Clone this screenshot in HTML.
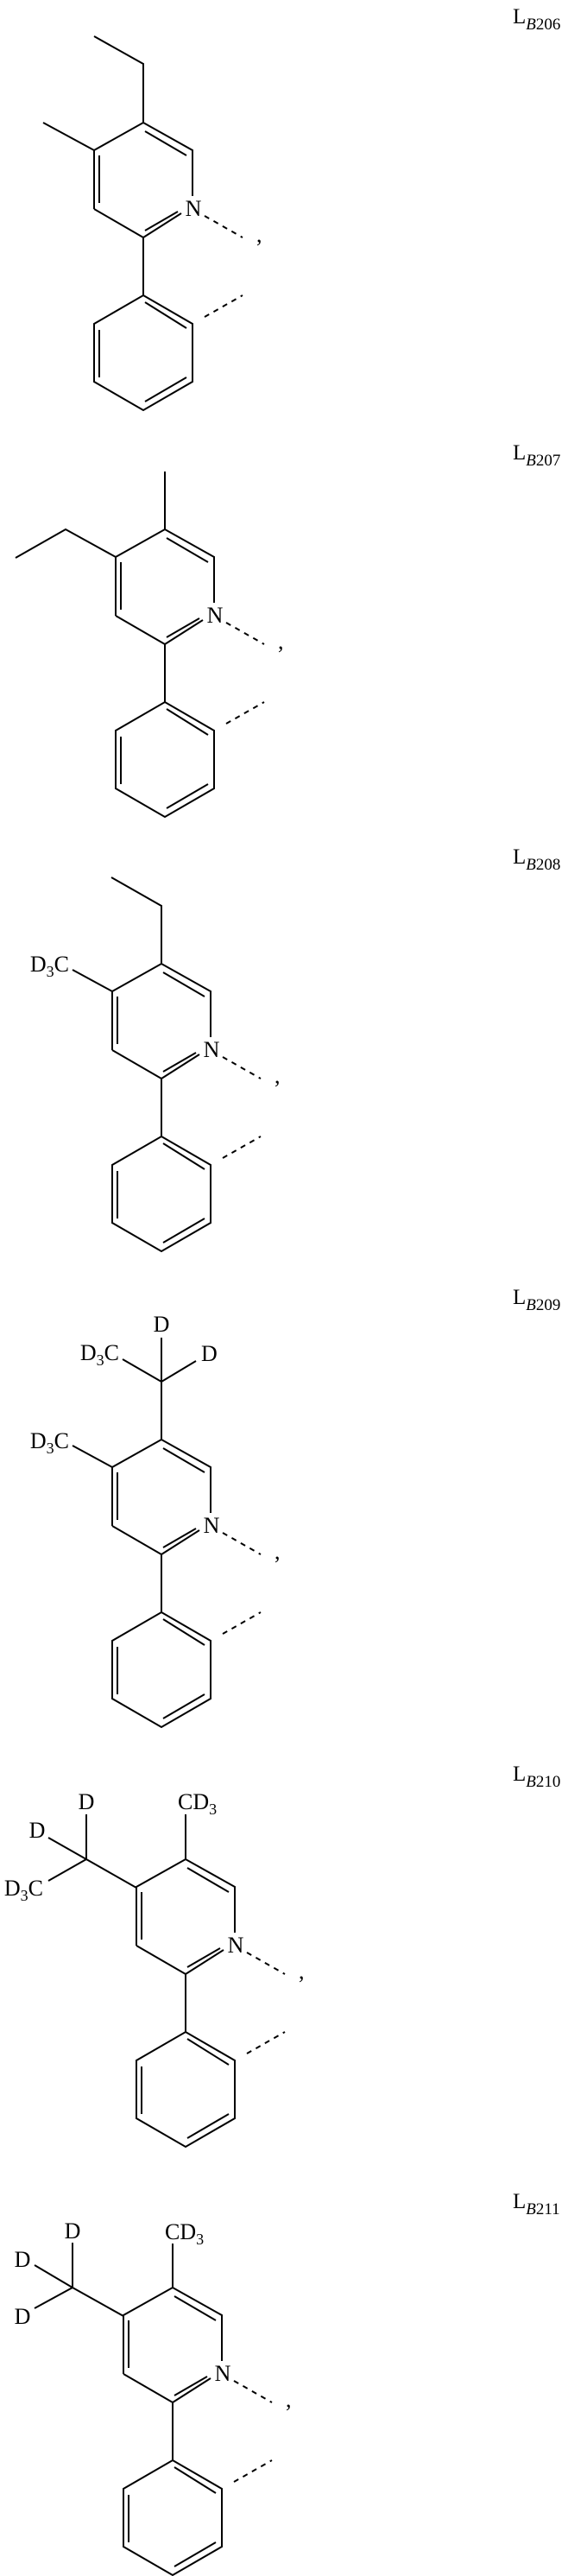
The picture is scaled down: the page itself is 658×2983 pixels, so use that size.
<!DOCTYPE html>
<html><head><meta charset="utf-8"><style>
html,body{margin:0;padding:0;background:#fff}
svg{display:block}
text{font-family:"Liberation Serif",serif;fill:#000}
</style></head><body>
<svg width="658" height="2983" viewBox="0 0 658 2983" xmlns="http://www.w3.org/2000/svg">
<defs>
<g id="core" stroke="#000" stroke-width="2" fill="none" stroke-linecap="butt">
  <polyline points="-57,100 -57,32 0,0 57,32 57,85"/>
  <line x1="0" y1="133" x2="-57" y2="100"/>
  <line x1="0" y1="133" x2="44" y2="105"/>
  <line x1="2" y1="10" x2="50" y2="38"/>
  <line x1="-51" y1="38" x2="-51" y2="93"/>
  <line x1="2" y1="125" x2="40" y2="103"/>
  <line x1="0" y1="133" x2="0" y2="200"/>
  <polygon points="0,200 57,233 57,300 0,333 -57,300 -57,233"/>
  <line x1="2" y1="208" x2="50" y2="238"/>
  <line x1="-51" y1="240" x2="-51" y2="295"/>
  <line x1="50" y1="295" x2="2" y2="323"/>
  <line x1="71" y1="108" x2="115" y2="133" stroke-dasharray="6,6"/>
  <line x1="71" y1="225" x2="115" y2="200" stroke-dasharray="6,6"/>
</g>
</defs>

<!-- Structure 1 -->
<g transform="translate(166,142)">
  <use href="#core"/>
  <g stroke="#000" stroke-width="2" fill="none">
    <polyline points="-57,-100 0,-68 0,0"/>
    <line x1="-57" y1="32" x2="-116" y2="0"/>
  </g>
  <text x="58" y="108" font-size="26" text-anchor="middle">N</text>
  <text x="131" y="138" font-size="26">,</text>
</g>
<text x="594" y="27" font-size="25">L<tspan font-size="19" font-style="italic" dy="7">B</tspan><tspan font-size="19">206</tspan></text>

<!-- Structure 2 -->
<g transform="translate(191,613)">
  <use href="#core"/>
  <g stroke="#000" stroke-width="2" fill="none">
    <line x1="0" y1="0" x2="0" y2="-67"/>
    <polyline points="-57,32 -115,0 -173,33"/>
  </g>
  <text x="58" y="108" font-size="26" text-anchor="middle">N</text>
  <text x="131" y="138" font-size="26">,</text>
</g>
<text x="594" y="532" font-size="25">L<tspan font-size="19" font-style="italic" dy="7">B</tspan><tspan font-size="19">207</tspan></text>

<!-- Structure 3 -->
<g transform="translate(187,1116)">
  <use href="#core"/>
  <g stroke="#000" stroke-width="2" fill="none">
    <polyline points="-58,-100 0,-67 0,0"/>
    <line x1="-57" y1="32" x2="-103" y2="7"/>
  </g>
  <text x="-107" y="9" font-size="26" text-anchor="end">D<tspan font-size="18" dy="6">3</tspan><tspan dy="-6">C</tspan></text>
  <text x="58" y="108" font-size="26" text-anchor="middle">N</text>
  <text x="131" y="138" font-size="26">,</text>
</g>
<text x="594" y="1000" font-size="25">L<tspan font-size="19" font-style="italic" dy="7">B</tspan><tspan font-size="19">208</tspan></text>

<!-- Structure 4 -->
<g transform="translate(187,1667)">
  <use href="#core"/>
  <g stroke="#000" stroke-width="2" fill="none">
    <line x1="0" y1="0" x2="0" y2="-67"/>
    <line x1="0" y1="-67" x2="0" y2="-118"/>
    <line x1="0" y1="-67" x2="40" y2="-91"/>
    <line x1="0" y1="-67" x2="-45" y2="-93"/>
    <line x1="-57" y1="32" x2="-103" y2="7"/>
  </g>
  <text x="0" y="-125" font-size="26" text-anchor="middle">D</text>
  <text x="46" y="-91" font-size="26">D</text>
  <text x="-49" y="-92" font-size="26" text-anchor="end">D<tspan font-size="18" dy="6">3</tspan><tspan dy="-6">C</tspan></text>
  <text x="-107" y="10" font-size="26" text-anchor="end">D<tspan font-size="18" dy="6">3</tspan><tspan dy="-6">C</tspan></text>
  <text x="58" y="108" font-size="26" text-anchor="middle">N</text>
  <text x="131" y="138" font-size="26">,</text>
</g>
<text x="594" y="1510" font-size="25">L<tspan font-size="19" font-style="italic" dy="7">B</tspan><tspan font-size="19">209</tspan></text>

<!-- Structure 5 -->
<g transform="translate(215,2153)">
  <use href="#core"/>
  <g stroke="#000" stroke-width="2" fill="none">
    <line x1="0" y1="0" x2="0" y2="-52"/>
    <line x1="-57" y1="33" x2="-115" y2="0"/>
    <line x1="-115" y1="0" x2="-115" y2="-52"/>
    <line x1="-115" y1="0" x2="-159" y2="-25"/>
    <line x1="-115" y1="0" x2="-159" y2="25"/>
  </g>
  <text x="-9" y="-58" font-size="26">CD<tspan font-size="18" dy="6">3</tspan></text>
  <text x="-115" y="-58" font-size="26" text-anchor="middle">D</text>
  <text x="-172" y="-25" font-size="26" text-anchor="middle">D</text>
  <text x="-165" y="42" font-size="26" text-anchor="end">D<tspan font-size="18" dy="6">3</tspan><tspan dy="-6">C</tspan></text>
  <text x="58" y="108" font-size="26" text-anchor="middle">N</text>
  <text x="131" y="138" font-size="26">,</text>
</g>
<text x="594" y="2062" font-size="25">L<tspan font-size="19" font-style="italic" dy="7">B</tspan><tspan font-size="19">210</tspan></text>

<!-- Structure 6 -->
<g transform="translate(200,2649)">
  <use href="#core"/>
  <g stroke="#000" stroke-width="2" fill="none">
    <line x1="0" y1="0" x2="0" y2="-51"/>
    <line x1="-57" y1="33" x2="-116" y2="0"/>
    <line x1="-116" y1="0" x2="-116" y2="-52"/>
    <line x1="-116" y1="0" x2="-160" y2="-26"/>
    <line x1="-116" y1="0" x2="-160" y2="24"/>
  </g>
  <text x="-9" y="-56" font-size="26">CD<tspan font-size="18" dy="6">3</tspan></text>
  <text x="-116" y="-57" font-size="26" text-anchor="middle">D</text>
  <text x="-174" y="-24" font-size="26" text-anchor="middle">D</text>
  <text x="-174" y="42" font-size="26" text-anchor="middle">D</text>
  <text x="58" y="108" font-size="26" text-anchor="middle">N</text>
  <text x="131" y="138" font-size="26">,</text>
</g>
<text x="594" y="2557" font-size="25">L<tspan font-size="19" font-style="italic" dy="7">B</tspan><tspan font-size="19">211</tspan></text>
</svg>
</body></html>
